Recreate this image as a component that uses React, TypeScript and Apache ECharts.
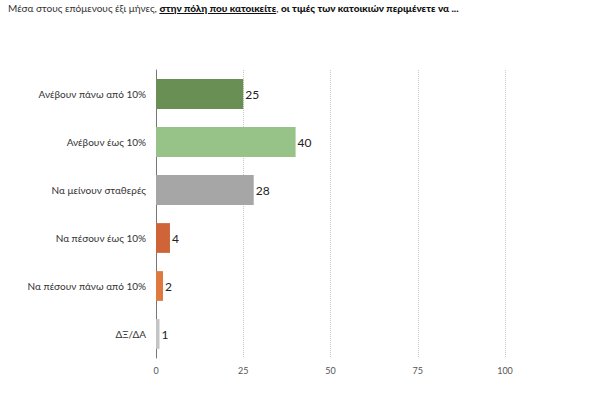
import React, { useEffect, useRef } from "react";
import * as echarts from "echarts";

const categories = [
  "Ανέβουν πάνω από 10%",
  "Ανέβουν έως 10%",
  "Να μείνουν σταθερές",
  "Να πέσουν έως 10%",
  "Να πέσουν πάνω από 10%",
  "ΔΞ/ΔΑ",
];
const values = [25, 40, 28, 4, 2, 1];
const colors = ["#6a8f55", "#97c288", "#a6a6a6", "#cf6438", "#e0793f", "#c4c4c4"];
const xTicks = [0, 25, 50, 75, 100];

const FONT = "Lato, 'Noto Sans', sans-serif";

export default function App() {
  const ref = useRef<HTMLDivElement>(null);
  useEffect(() => {
    if (!ref.current) return;
    const chart = echarts.init(ref.current, undefined, { renderer: "svg" });
    chart.setOption({
      animation: false,
      grid: { left: 156, right: 95, top: 70, bottom: 35, containLabel: false },
      xAxis: {
        type: "value",
        min: xTicks[0],
        max: xTicks[xTicks.length - 1],
        interval: 25,
        axisLine: { show: false },
        axisTick: { show: false },
        axisLabel: { color: "#555", fontSize: 9, fontFamily: FONT, margin: 8 },
        splitLine: {
          show: true,
          lineStyle: { color: "#c8c8c8", type: [1, 1], width: 1 },
        },
      },
      yAxis: {
        type: "category",
        data: categories,
        inverse: true,
        axisLine: { show: true, lineStyle: { color: "#777", width: 1 } },
        axisTick: { show: false },
        axisLabel: { color: "#333", fontSize: 10, fontFamily: FONT, margin: 10 },
      },
      series: [
        {
          type: "bar",
          data: values.map((v, i) => ({ value: v, itemStyle: { color: colors[i] } })),
          barWidth: "62%",
          label: {
            show: true,
            position: "right",
            distance: 2,
            color: "#222",
            fontSize: 12,
            fontFamily: FONT,
          },
        },
      ],
    });
    return () => chart.dispose();
  }, []);
  return (
    <div style={{ position: "fixed", left: 0, top: 0, width: 600, height: 393, background: "#fff" }}>
      <div
        style={{
          position: "absolute",
          left: 8,
          top: 2,
          fontFamily: FONT,
          fontSize: 10,
          color: "#333",
          whiteSpace: "nowrap",
          zIndex: 2,
        }}
      >
        Μέσα στους επόμενους έξι μήνες,{" "}
        <b style={{ textDecoration: "underline", color: "#111", fontWeight: 900 }}>στην πόλη που κατοικείτε</b>
        , <b style={{ color: "#111", fontWeight: 900 }}>οι τιμές των κατοικιών περιμένετε να ...</b>
      </div>
      <div ref={ref} style={{ position: "absolute", left: 0, top: 0, width: 600, height: 393 }} />
    </div>
  );
}
